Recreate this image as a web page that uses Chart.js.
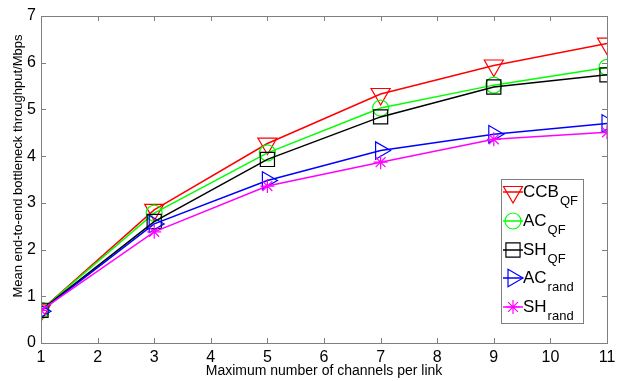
<!DOCTYPE html>
<html>
<head>
<meta charset="utf-8">
<script src="https://cdn.jsdelivr.net/npm/chart.js@4"></script>
<style>
  html, body { margin: 0; padding: 0; background: #fff; }
  #wrap { width: 624px; height: 381px; }
</style>
</head>
<body>
<div id="wrap"><canvas id="chart"></canvas></div>
<script>
const channels = [1, 3, 5, 7, 9, 11];
const ccbQF   = [0.70, 2.85, 4.27, 5.33, 5.94, 6.41];
const acQF    = [0.70, 2.78, 4.07, 5.03, 5.52, 5.90];
const shQF    = [0.70, 2.60, 3.93, 4.84, 5.48, 5.74];
const acRand  = [0.68, 2.55, 3.48, 4.12, 4.47, 4.70];
const shRand  = [0.70, 2.38, 3.36, 3.87, 4.36, 4.51];
const xTicks = [1, 2, 3, 4, 5, 6, 7, 8, 9, 10, 11];
const yTicks = [0, 1, 2, 3, 4, 5, 6, 7];

const FONT = '"Liberation Sans", Arial, sans-serif';
const AXIS_COLOR = '#7f7f7f';

function series(label, sub, data, color, style, rotation, radius, order) {
    return {
        label: label,
        sub: sub,
        data: data.map((v, i) => ({ x: channels[i], y: v })),
        borderColor: color,
        backgroundColor: 'rgba(0,0,0,0)',
        borderWidth: 1.5,
        pointStyle: style,
        rotation: rotation,
        pointRadius: radius,
        pointBorderWidth: 1.2,
        pointBorderColor: color,
        pointBackgroundColor: 'rgba(0,0,0,0)',
        tension: 0,
        order: order
    };
}

// box round the plot with inward ticks, like matlab axes
const axesBox = {
    id: 'axesBox',
    afterDatasetsDraw(chart) {
        const { ctx, chartArea: a, scales } = chart;
        ctx.save();
        ctx.strokeStyle = AXIS_COLOR;
        ctx.lineWidth = 1;
        ctx.strokeRect(a.left + 0.5, a.top + 0.5, a.right - a.left, a.bottom - a.top);
        const tl = 5;
        ctx.beginPath();
        xTicks.forEach(v => {
            const x = Math.round(scales.x.getPixelForValue(v)) + 0.5;
            ctx.moveTo(x, a.bottom); ctx.lineTo(x, a.bottom - tl);
            ctx.moveTo(x, a.top); ctx.lineTo(x, a.top + tl);
        });
        yTicks.forEach(v => {
            const y = Math.round(scales.y.getPixelForValue(v)) + 0.5;
            ctx.moveTo(a.left, y); ctx.lineTo(a.left + tl, y);
            ctx.moveTo(a.right, y); ctx.lineTo(a.right - tl, y);
        });
        ctx.stroke();

        // axis titles
        ctx.fillStyle = '#000';
        ctx.textAlign = 'center';
        ctx.textBaseline = 'middle';
        ctx.font = '14px ' + FONT;
        ctx.fillText('Maximum number of channels per link', (a.left + a.right) / 2, 371);
        ctx.font = '13px ' + FONT;
        ctx.translate(18, 166);
        ctx.rotate(-Math.PI / 2);
        ctx.fillText('Mean end-to-end bottleneck throughput/Mbps', 0, 0);
        ctx.restore();
    }
};

// legend with subscripts
const subLegend = {
    id: 'subLegend',
    afterDraw(chart) {
        const ctx = chart.ctx;
        const bx = 501, by = 179, bw = 82, bh = 144;
        ctx.save();
        ctx.fillStyle = '#fff';
        ctx.fillRect(bx, by, bw, bh);
        ctx.strokeStyle = AXIS_COLOR;
        ctx.lineWidth = 1;
        ctx.strokeRect(bx + 0.5, by + 0.5, bw, bh);
        const rows = [192, 221, 250, 278, 307];
        chart.data.datasets.forEach((ds, i) => {
            const y = rows[i];
            ctx.strokeStyle = ds.borderColor;
            ctx.lineWidth = 1.5;
            ctx.beginPath();
            ctx.moveTo(503, y); ctx.lineTo(523, y);
            ctx.stroke();
            ctx.fillStyle = 'rgba(0,0,0,0)';
            ctx.lineWidth = 1.2;
            Chart.helpers.drawPoint(ctx, {
                pointStyle: ds.pointStyle,
                rotation: ds.rotation,
                radius: ds.pointRadius,
                borderWidth: 1.2
            }, 513, y);
            ctx.fillStyle = '#000';
            ctx.textAlign = 'left';
            ctx.textBaseline = 'alphabetic';
            ctx.font = '17px ' + FONT;
            ctx.fillText(ds.label, 523, y + 5);
            const w = ctx.measureText(ds.label).width;
            ctx.font = '13px ' + FONT;
            ctx.fillText(ds.sub, 523 + w + 1, y + 13);
        });
        ctx.restore();
    }
};

new Chart(document.getElementById('chart'), {
    type: 'line',
    data: {
        datasets: [
            series('CCB', 'QF', ccbQF, '#ff0000', 'triangle', 180, 11, 5),
            series('AC', 'QF', acQF, '#00ff00', 'circle', 0, 8, 4),
            series('SH', 'QF', shQF, '#000000', 'rect', 0, 10, 3),
            series('AC', 'rand', acRand, '#0000ff', 'triangle', 90, 10, 2),
            series('SH', 'rand', shRand, '#ff00ff', 'star', 0, 7, 1)
        ]
    },
    options: {
        responsive: true,
        maintainAspectRatio: false,
        animation: false,
        layout: { padding: { top: 16, right: 17, left: 0, bottom: 0 } },
        plugins: {
            legend: { display: false },
            tooltip: { enabled: false }
        },
        scales: {
            x: {
                type: 'linear',
                min: 1,
                max: 11,
                afterBuildTicks: s => { s.ticks = xTicks.map(v => ({ value: v })); },
                afterFit: s => { s.height = 38; },
                grid: { display: false, drawTicks: false },
                border: { display: false },
                ticks: { color: '#000', font: { family: FONT, size: 16 }, padding: 5, maxRotation: 0 }
            },
            y: {
                min: 0,
                max: 7,
                afterBuildTicks: s => { s.ticks = yTicks.map(v => ({ value: v })); },
                afterFit: s => { s.width = 41; },
                grid: { display: false, drawTicks: false },
                border: { display: false },
                ticks: { color: '#000', font: { family: FONT, size: 16 }, padding: 5 }
            }
        }
    },
    plugins: [axesBox, subLegend]
});
</script>
</body>
</html>
